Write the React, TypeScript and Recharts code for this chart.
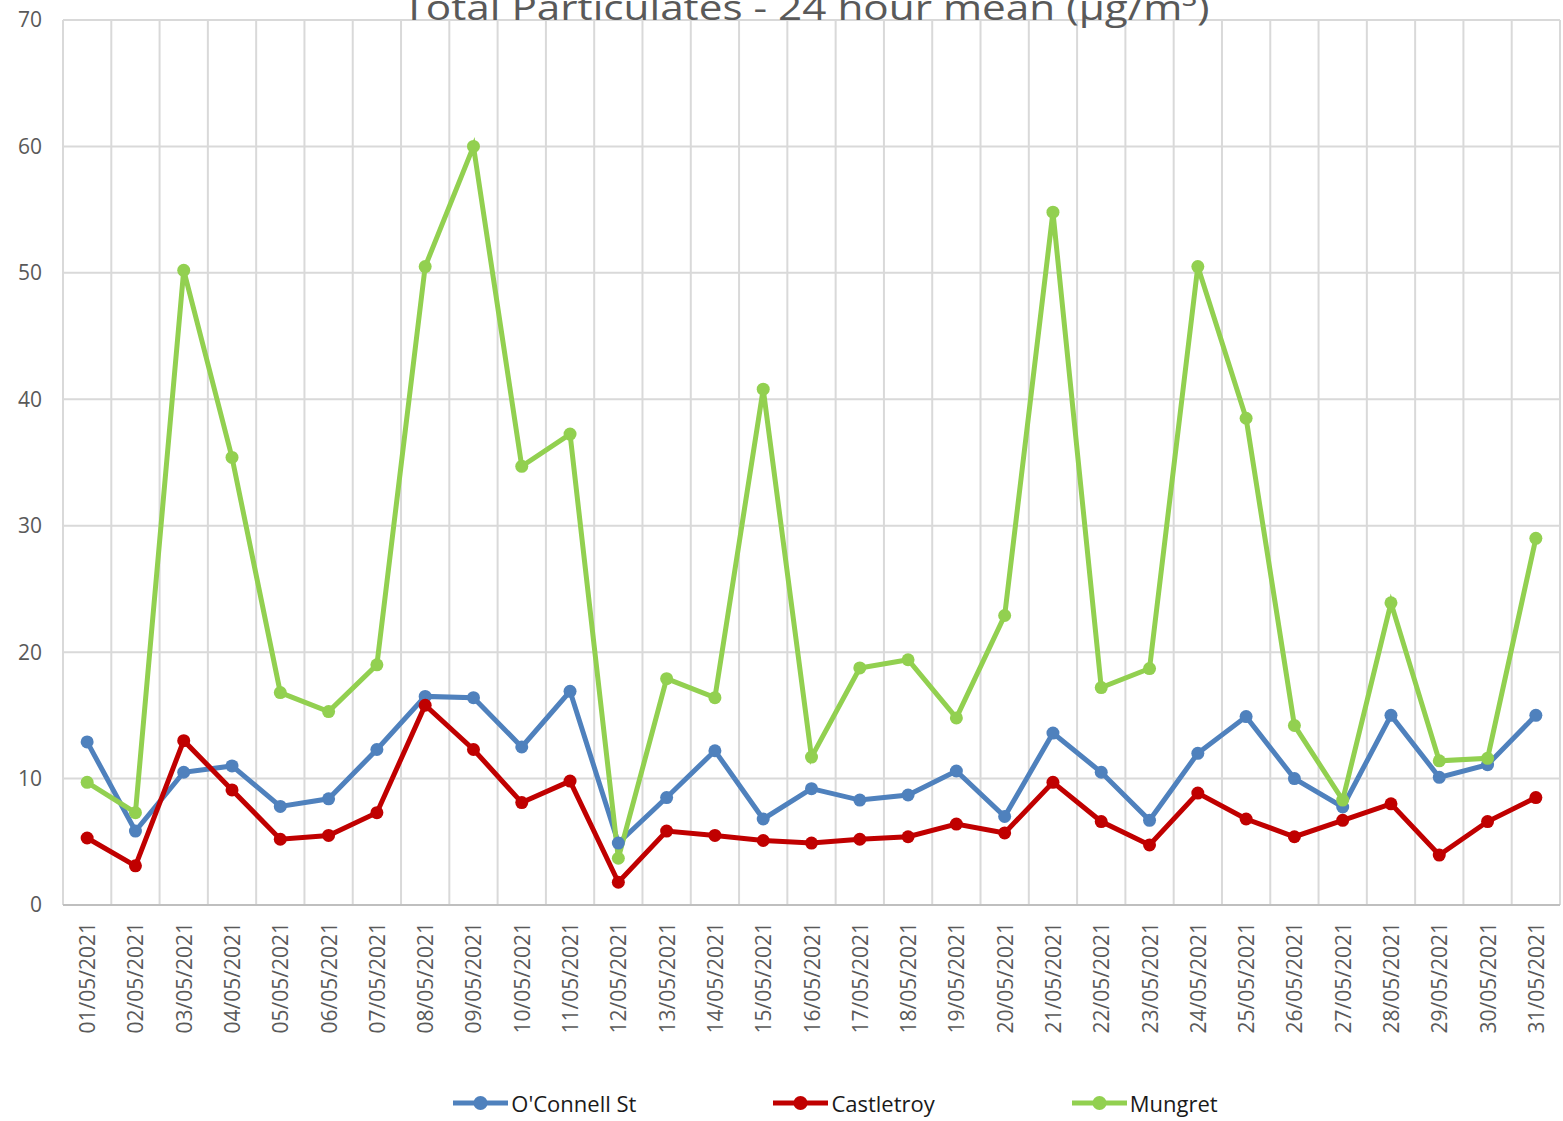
import React from 'react';
import { LineChart, Line, XAxis, YAxis, CartesianGrid, Legend } from 'recharts';

const dates = [
  '01/05/2021','02/05/2021','03/05/2021','04/05/2021','05/05/2021','06/05/2021','07/05/2021','08/05/2021',
  '09/05/2021','10/05/2021','11/05/2021','12/05/2021','13/05/2021','14/05/2021','15/05/2021','16/05/2021',
  '17/05/2021','18/05/2021','19/05/2021','20/05/2021','21/05/2021','22/05/2021','23/05/2021','24/05/2021',
  '25/05/2021','26/05/2021','27/05/2021','28/05/2021','29/05/2021','30/05/2021','31/05/2021',
];

const oconnell = [12.9, 5.85, 10.5, 11.0, 7.8, 8.4, 12.3, 16.5, 16.4, 12.5, 16.9, 4.9, 8.5, 12.2, 6.8, 9.2,
  8.3, 8.7, 10.6, 7.0, 13.6, 10.5, 6.7, 12.0, 14.9, 10.0, 7.75, 15.0, 10.1, 11.1, 15.0];

const castletroy = [5.3, 3.1, 13.0, 9.1, 5.2, 5.5, 7.3, 15.8, 12.3, 8.1, 9.8, 1.8, 5.85, 5.5, 5.1, 4.9,
  5.2, 5.4, 6.4, 5.7, 9.7, 6.6, 4.75, 8.85, 6.8, 5.4, 6.7, 8.0, 3.95, 6.6, 8.5];

const mungret = [9.7, 7.3, 50.2, 35.4, 16.8, 15.3, 19.0, 50.5, 60.0, 34.7, 37.25, 3.7, 17.9, 16.4, 40.8, 11.7,
  18.75, 19.4, 14.8, 22.9, 54.8, 17.2, 18.7, 50.5, 38.5, 14.2, 8.3, 23.9, 11.4, 11.6, 29.0];

const yTicks = [0, 10, 20, 30, 40, 50, 60, 70];
const title = 'Total Particulates - 24 hour mean (µg/m³)';

const series = [
  { key: 'oconnell', name: "O'Connell St", color: '#4F81BD' },
  { key: 'castletroy', name: 'Castletroy', color: '#C00000' },
  { key: 'mungret', name: 'Mungret', color: '#92D050' },
];

const data = dates.map((d, i) => ({
  idx: i,
  date: d,
  oconnell: oconnell[i],
  castletroy: castletroy[i],
  mungret: mungret[i],
}));

const FONT = '"Open Sans", "Noto Sans", sans-serif';

const XTick = (props: any) => {
  const { x, y, payload } = props;
  return (
    <text
      x={x}
      y={y}
      transform={`rotate(-90, ${x}, ${y})`}
      textAnchor="end"
      dominantBaseline="central"
      fill="#595959"
      fontSize={21}
      fontFamily={FONT}
    >
      {dates[payload.value]}
    </text>
  );
};

const renderLegend = () => (
  <div
    style={{
      display: 'flex',
      justifyContent: 'center',
      alignItems: 'center',
      gap: 137,
      paddingLeft: 111,
      height: 36,
      fontFamily: FONT,
      fontSize: 22,
      color: '#1a1a1a',
    }}
  >
    {series.map((s) => (
      <div key={s.key} style={{ display: 'flex', alignItems: 'center' }}>
        <svg width={58} height={20} style={{ display: 'block' }}>
          <line x1={0} y1={10} x2={55} y2={10} stroke={s.color} strokeWidth={5} />
          <circle cx={27.5} cy={10} r={7} fill={s.color} />
        </svg>
        <span>{s.name}</span>
      </div>
    ))}
  </div>
);

export default function App() {
  const W = 1563;
  const H = 1121;
  return (
    <div style={{ position: 'absolute', left: 0, top: 0, width: W, height: H, background: '#fff', fontFamily: FONT }}>
      <LineChart width={W} height={H} data={data} margin={{ top: 20, right: 3, left: 0, bottom: 0 }}>
        <CartesianGrid
          stroke="#D9D9D9"
          strokeWidth={2}
          verticalCoordinatesGenerator={({ offset }: any) =>
            Array.from({ length: dates.length + 1 }, (_, k) => offset.left + (k * offset.width) / dates.length)
          }
        />
        <XAxis
          dataKey="idx"
          type="number"
          domain={[-0.5, dates.length - 0.5]}
          ticks={data.map((d) => d.idx)}
          interval={0}
          height={180}
          tickLine={false}
          tickMargin={11}
          axisLine={{ stroke: '#BFBFBF', strokeWidth: 2 }}
          tick={<XTick />}
        />
        <YAxis
          domain={[0, 70]}
          ticks={yTicks}
          width={63}
          axisLine={false}
          tickLine={false}
          tickMargin={15}
          tick={{ fill: '#595959', fontSize: 21, fontFamily: FONT }}
        />
        <Legend verticalAlign="bottom" content={renderLegend} />
        {series.map((s) => (
          <Line
            key={s.key}
            dataKey={s.key}
            name={s.name}
            stroke={s.color}
            strokeWidth={5}
            dot={{ r: 6.5, fill: s.color, stroke: s.color, strokeWidth: 0 }}
            activeDot={false}
            isAnimationActive={false}
          />
        ))}
        <text
          x={806}
          y={20}
          textAnchor="middle"
          fill="#595959"
          fontSize={34}
          fontFamily={FONT}
          textLength={807}
          lengthAdjust="spacingAndGlyphs"
        >
          {title}
        </text>
      </LineChart>
    </div>
  );
}
